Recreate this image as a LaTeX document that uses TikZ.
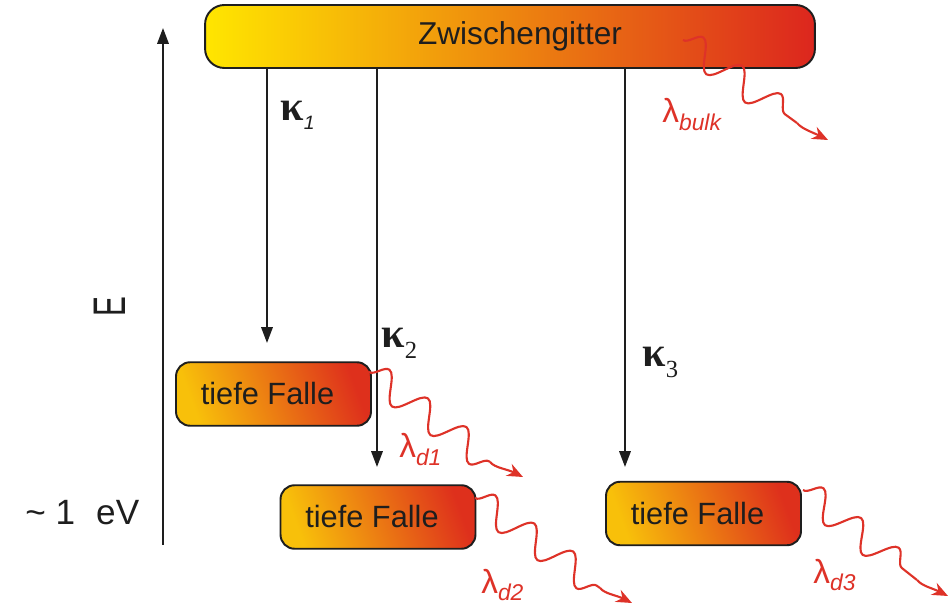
\documentclass[tikz,border=0pt]{standalone}
\usepackage{fontspec}
\setmainfont{Liberation Sans}
\newfontfamily\kapfont{Liberation Serif}
\newfontfamily\labsans{Liberation Sans}
\usetikzlibrary{arrows.meta,decorations.pathmorphing,calc}
\definecolor{wavered}{RGB}{222,50,40}
\definecolor{gyellow}{RGB}{255,230,0}
\definecolor{gorange}{RGB}{238,145,22}
\definecolor{gred}{RGB}{220,38,30}
\definecolor{tyellow}{RGB}{248,192,10}
\definecolor{torange}{RGB}{237,135,22}
\definecolor{tred}{RGB}{222,48,28}
\definecolor{ink}{RGB}{30,30,30}
\begin{document}
\begin{tikzpicture}[x=0.02cm,y=-0.02cm,
  barbox/.style={draw=ink, line width=1.1pt, rounded corners=11pt,
    minimum width=12.2cm, minimum height=1.26cm, inner sep=0pt,
    left color=gyellow, middle color=gorange, right color=gred,
    font=\fontsize{18}{20}\selectfont, text=ink},
  trapbox/.style={draw=ink, line width=1.1pt, rounded corners=8pt,
    minimum width=3.9cm, minimum height=1.27cm, inner sep=0pt,
    left color=tyellow, middle color=torange, right color=tred, shading angle=110,
    font=\fontsize{17.5}{20}\selectfont, text=ink},
  karrow/.style={draw=ink, line width=1.1pt, -{Triangle[length=9pt,width=6.5pt]}},
  wavy/.style={draw=wavered, line width=1.2pt, line join=round, decorate,
    decoration={snake, amplitude=0.28cm, segment length=0.96cm}},
  wavetip/.style={draw=wavered, line width=1.2pt, -{Stealth[length=9pt,width=7.5pt]}},
  klab/.style={font=\kapfont\bfseries\fontsize{24}{26}\selectfont, text=ink, inner sep=0pt, anchor=base west},
  llab/.style={font=\fontsize{19}{21}\selectfont, text=wavered, inner sep=0pt, anchor=base west},
  plain/.style={font=\fontsize{20}{22}\selectfont, text=ink, inner sep=0pt},
]
\useasboundingbox (0,0) rectangle (950,607);
\fill[white] (0,0) rectangle (950,607);

% energy axis
\coordinate (axbot) at (163,545);
\coordinate (axtop) at (163,28);
\draw[karrow] (axbot) -- (axtop);
\node[plain, rotate=90, font=\fontsize{26}{28}\selectfont] (elab) at (110,307) {\scalebox{0.65}[1]{E}};
\node[plain, anchor=base west] (evlab) at (25,525) {\textasciitilde{} 1\hspace{12pt}eV};

% levels
\node[barbox] (bar) at (510,36.5) {\hspace*{0.4cm}Zwischengitter};
\node[trapbox] (trap1) at (273.5,394) {tiefe Falle\hspace*{0.24cm}};
\node[trapbox] (trap2) at (378,517) {tiefe Falle\hspace*{0.24cm}};
\node[trapbox] (trap3) at (703.5,513.5) {tiefe Falle\hspace*{0.24cm}};

% capture arrows
\coordinate (k1e) at (267,343);
\coordinate (k2e) at (377,467);
\coordinate (k3e) at (625,467);
\draw[karrow] (bar.south -| k1e) -- (k1e);
\draw[karrow] (bar.south -| k2e) -- (k2e);
\draw[karrow] (bar.south -| k3e) -- (k3e);
\node[klab] (k1lab) at (280,121) {κ\raisebox{-5pt}{\mdseries\labsans\itshape\fontsize{11}{12}\selectfont 1}};
\node[klab] (k2lab) at (381,348) {κ\raisebox{-5.7pt}{\mdseries\fontsize{14}{15}\selectfont 2}};
\node[klab] (k3lab) at (642,367) {κ\raisebox{-5.7pt}{\mdseries\fontsize{14}{15}\selectfont 3}};

% emission (wavy) arrows
\coordinate (wbs) at (683,40);  \coordinate (wbm) at (797,123); \coordinate (wbe) at (828,140);
\coordinate (w1s) at (369,372); \coordinate (w1m) at (490,462); \coordinate (w1e) at (523,477);
\coordinate (w2s) at (475,498); \coordinate (w2m) at (600,588); \coordinate (w2e) at (632,603);
\coordinate (w3s) at (803,490); \coordinate (w3m) at (917,580); \coordinate (w3e) at (948,596);

\draw[wavy] (wbs) -- (wbm);
\draw[wavetip] (wbm) .. controls ($(wbm)+(5,6)$) and ($(wbe)+(-16,-8)$) .. (wbe);
\draw[wavy] (w1s) -- (w1m);
\draw[wavetip] (w1m) .. controls ($(w1m)+(5,6)$) and ($(w1e)+(-16,-8)$) .. (w1e);
\draw[wavy] (w2s) -- (w2m);
\draw[wavetip] (w2m) .. controls ($(w2m)+(5,6)$) and ($(w2e)+(-16,-8)$) .. (w2e);
\draw[wavy] (w3s) -- (w3m);
\draw[wavetip] (w3m) .. controls ($(w3m)+(5,6)$) and ($(w3e)+(-16,-8)$) .. (w3e);

\node[llab] (lbulk) at (662,123) {λ\raisebox{-4pt}{\itshape\fontsize{13}{14}\selectfont bulk}};
\node[llab] (ld1) at (399,458) {λ\raisebox{-4pt}{\itshape\fontsize{13}{14}\selectfont d1}};
\node[llab] (ld2) at (481,593) {λ\raisebox{-4pt}{\itshape\fontsize{13}{14}\selectfont d2}};
\node[llab] (ld3) at (813,583) {λ\raisebox{-4pt}{\itshape\fontsize{13}{14}\selectfont d3}};
\end{tikzpicture}
\end{document}
